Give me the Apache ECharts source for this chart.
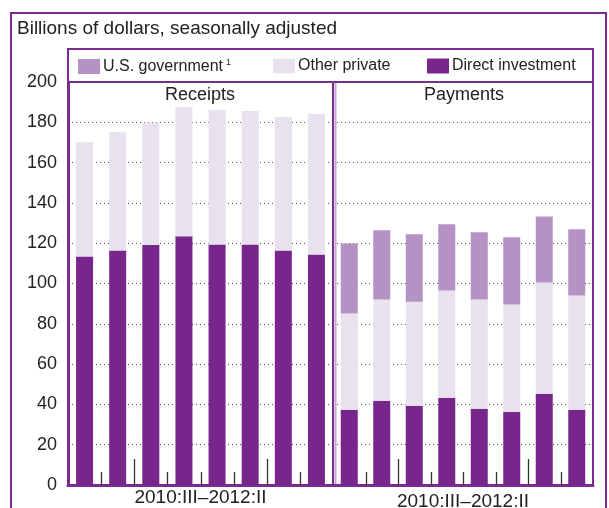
<!DOCTYPE html>
<html><head><meta charset="utf-8">
<script src="https://cdn.jsdelivr.net/npm/echarts@6/dist/echarts.min.js"></script>
<style>html,body{margin:0;padding:0;background:#fff}#c{width:609px;height:508px}</style>
</head><body><div id="c"></div>
<script>
const categories = ['2010:III','2010:IV','2011:I','2011:II','2011:III','2011:IV','2012:I','2012:II'];
const yTicks = [0,20,40,60,80,100,120,140,160,180,200];
const receiptsDirect = [113.4,116.4,119.1,123.4,119.4,119.4,116.4,114.4];
const receiptsOther  = [56.7,58.7,60.7,64.2,66.7,66.2,66.2,69.7];
const receiptsGov    = [0,0,0,0,0,0,0,0];
const paymentsDirect = [37.3,41.8,39.3,43.3,37.8,36.3,45.3,37.3];
const paymentsOther  = [47.8,50.2,51.7,53.2,54.2,53.3,55.2,56.7];
const paymentsGov    = [34.8,34.4,33.4,32.9,33.4,33.3,32.8,32.9];
const panelTitles = ['Receipts','Payments'];
const rangeLabel = '2010:III\u20132012:II';
const names = ['U.S. government','Other private','Direct investment'];

const PURPLE = '#7b2a90', DI = '#78268b', OP = '#e8e1ee', GOV = '#b492c3';
const FONT = "'Liberation Sans', Arial, Helvetica, sans-serif";

const chart = echarts.init(document.getElementById('c'), null, {renderer:'canvas'});

function tickSeries(gi){
  return {
    type:'custom', xAxisIndex:gi, yAxisIndex:gi, silent:true, z:5,
    data: categories.slice(0,-1).map((c,i)=>[i, categories[i+1].endsWith(':I') ? 1 : 0]),
    renderItem:(params, api)=>{
      const i = api.value(0);
      const a = api.coord([i,0]), b = api.coord([i+1,0]);
      const x = Math.round((a[0]+b[0])/2)+0.5;
      const len = api.value(1) ? 26 : 13;
      return {type:'line', shape:{x1:x,y1:a[1],x2:x,y2:a[1]-len}, style:{stroke:'#333', lineWidth:1.3}};
    }
  };
}
function bars(gi, d, o, g){
  const common = {type:'bar', stack:'s'+gi, xAxisIndex:gi, yAxisIndex:gi, barWidth:17, silent:true};
  return [
    Object.assign({}, common, {name:names[2], data:d, itemStyle:{color:DI}}),
    Object.assign({}, common, {name:names[1], data:o, itemStyle:{color:OP}}),
    Object.assign({}, common, {name:names[0], data:g, itemStyle:{color:GOV}})
  ];
}
const splitLine = {show:true, lineStyle:{color:'#555', type:[1,3], width:1}};
function legend(name, left, fmt){
  return {data:[name], left:left, top:58, padding:0, icon:'rect', itemWidth:22, itemHeight:15, itemGap:0, selectedMode:false,
    textStyle:{fontFamily:FONT, fontSize:16, color:'#222', padding:[0,0,0,-2],
      rich:{sup:{fontFamily:FONT, fontSize:9, color:'#222', padding:[0,0,8,3]}}},
    formatter: fmt};
}

chart.setOption({
  animation:false,
  title:{text:'Billions of dollars, seasonally adjusted', left:17, top:19, padding:0,
    textStyle:{fontFamily:FONT, fontSize:19, fontWeight:'normal', color:'#222'}},
  legend:[
    legend(names[0], 78, n => n + '{sup|1}'),
    legend(names[1], 273),
    legend(names[2], 427)
  ],
  grid:[
    {left:68, top:82, width:265, height:403, show:true, borderColor:PURPLE, borderWidth:2, containLabel:false, outerBoundsMode:'none'},
    {left:333, top:82, width:260, height:403, show:true, borderColor:PURPLE, borderWidth:2, containLabel:false, outerBoundsMode:'none'}
  ],
  xAxis:[0,1].map(gi=>({
    type:'category', gridIndex:gi, data:categories,
    axisLine:{show:true, onZero:false, lineStyle:{color:PURPLE, width:3}},
    axisTick:{show:false}, axisLabel:{show:false},
    name:rangeLabel, nameLocation:'middle', nameGap: gi===0 ? 3 : 7,
    nameTextStyle:{fontFamily:FONT, fontSize:19, color:'#222', verticalAlign:'top'}
  })),
  yAxis:[0,1].map(gi=>({
    type:'value', gridIndex:gi, min:yTicks[0], max:yTicks[yTicks.length-1], interval:yTicks[1]-yTicks[0],
    axisLine:{show:gi===0, lineStyle:{color:PURPLE, width:3}},
    axisTick:{show:false},
    axisLabel:{show:gi===0, margin:11, fontFamily:FONT, fontSize:18, color:'#222'},
    splitLine: splitLine
  })),
  graphic:[
    {type:'rect', shape:{x:11, y:13, width:595, height:520}, style:{fill:null, stroke:PURPLE, lineWidth:2}, z:-1, silent:true},
    {type:'rect', shape:{x:68, y:49, width:525, height:33}, style:{fill:null, stroke:PURPLE, lineWidth:2}, silent:true},
    {type:'line', shape:{x1:335.5, y1:83, x2:335.5, y2:484}, style:{stroke:'#c7a3d4', lineWidth:2}, silent:true, z:10},
    {type:'text', x:200, y:95, style:{text:panelTitles[0], align:'center', verticalAlign:'middle', font:'18px '+FONT, fill:'#222'}, silent:true},
    {type:'text', x:464, y:95, style:{text:panelTitles[1], align:'center', verticalAlign:'middle', font:'18px '+FONT, fill:'#222'}, silent:true}
  ],
  series:[
    ...bars(0, receiptsDirect, receiptsOther, receiptsGov),
    ...bars(1, paymentsDirect, paymentsOther, paymentsGov),
    tickSeries(0), tickSeries(1)
  ]
});
</script></body></html>
